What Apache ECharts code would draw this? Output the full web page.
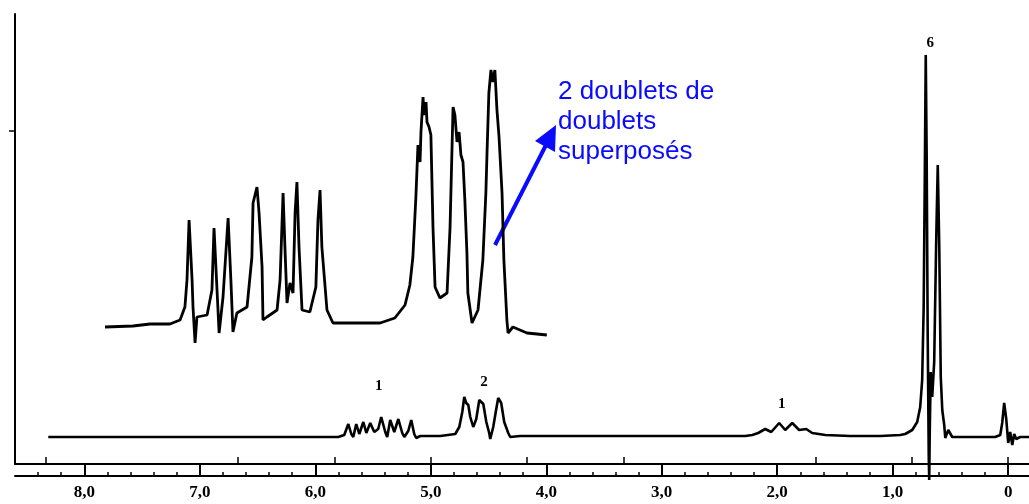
<!DOCTYPE html>
<html>
<head>
<meta charset="utf-8">
<script src="https://cdn.jsdelivr.net/npm/echarts@6/dist/echarts.min.js"></script>
<style>
html,body{margin:0;padding:0;background:#fff;}
#chart{width:1029px;height:504px;}
</style>
</head>
<body>
<div id="chart"></div>
<script>
// ---- Main spectrum (ppm, intensity above baseline) ----
const mainPpm = [8.312,7.861,6.996,6.130,5.801,5.749,5.714,5.688,5.671,5.645,5.619,5.584,5.558,5.524,5.489,5.455,5.429,5.394,5.377,5.351,5.316,5.281,5.247,5.229,5.195,5.169,5.143,5.126,5.091,4.918,4.788,4.753,4.727,4.710,4.693,4.675,4.658,4.632,4.606,4.580,4.563,4.545,4.519,4.494,4.485,4.459,4.433,4.416,4.390,4.364,4.329,4.312,4.225,3.532,2.667,2.277,2.216,2.165,2.104,2.052,1.983,1.931,1.870,1.810,1.749,1.697,1.584,1.368,1.108,0.935,0.892,0.831,0.788,0.762,0.745,0.732,0.723,0.714,0.706,0.697,0.688,0.684,0.680,0.671,0.658,0.641,0.623,0.610,0.597,0.584,0.571,0.554,0.545,0.519,0.485,0.113,0.069,0.052,0.035,0.017,0.000,-0.017,-0.035,-0.052,-0.069,-0.104,-0.182];
const mainInt = [0,0,0,0,0,2,13,3,0,13,3,15,4,14,5,8,20,5,0,17,5,18,4,0,6,17,3,-1,1,1,3,10,25,40,34,32,20,10,18,37,35,33,15,4,-2,10,28,39,34,15,4,0,1,1,1,1,2,4,8,5,14,7,14,7,8,4,2,1,1,2,3,7,15,30,57,130,250,382,280,100,-20,-43,0,65,40,75,200,272,190,60,27,12,-1,7,0,0,2,14,34,18,-6,5,-8,3,-2,0,0];

// ---- Expanded inset (ppm, intensity above inset baseline) ----
const insetPpm = [6.118,5.997,5.923,5.837,5.793,5.772,5.763,5.754,5.741,5.737,5.728,5.720,5.676,5.655,5.646,5.633,5.624,5.607,5.585,5.573,5.564,5.547,5.503,5.482,5.477,5.460,5.451,5.438,5.434,5.417,5.373,5.360,5.347,5.339,5.330,5.317,5.304,5.295,5.287,5.278,5.265,5.231,5.205,5.196,5.187,5.179,5.157,5.131,5.070,4.927,4.863,4.819,4.798,4.785,4.772,4.763,4.754,4.750,4.741,4.737,4.728,4.724,4.715,4.707,4.698,4.689,4.668,4.637,4.624,4.616,4.611,4.603,4.594,4.585,4.577,4.568,4.560,4.551,4.547,4.529,4.503,4.482,4.469,4.464,4.456,4.447,4.439,4.430,4.421,4.412,4.408,4.399,4.391,4.378,4.373,4.352,4.291,4.205];
const insetInt = [0,1,3,3,7,20,47,107,47,20,-16,10,12,37,99,37,-6,30,109,47,-5,14,20,70,124,140,114,60,7,10,17,47,134,80,24,44,34,114,145,80,17,15,40,107,137,80,17,4,4,4,9,22,42,70,130,182,165,195,230,212,225,205,200,192,100,40,29,34,100,175,220,212,185,195,172,165,127,74,34,4,17,67,134,174,234,257,245,257,217,190,190,134,67,7,-6,0,-6,-8];

// ---- Axis ticks / labels ----
const labelTicks = [0,1,2,3,4,5,6,7,8];
const chartTicks = [0,0.833,1.667,3.333,4.167,5.0,5.833,6.667,8.333];
const minorTicks = [0.2,0.4,0.6,0.8,1.2,1.4,1.6,1.8,2.2,2.4,2.6,2.8,3.2,3.4,3.6,3.8,4.2,4.4,4.6,4.8,5.2,5.4,5.6,5.8,6.2,6.4,6.6,6.8,7.2,7.4,7.6,7.8,8.2,8.4];
const yTicks = [306];

// ---- Integration labels ----
const integText = ['1','2','1','6'];
const integPpm = [5.45,4.54,1.96,0.675];
const integInt = [51,55,33,394];

const noteLines = ['2 doublets de','doublets','superposés'];

const chart = echarts.init(document.getElementById('chart'));
const fmt = v => v === 0 ? '0' : v.toFixed(1).replace('.', ',');
const blue = '#0a0aff';

chart.setOption({
  animation: false,
  backgroundColor: '#fff',
  grid: [
    {left: 15, right: 0, top: 14, bottom: 40},
    {left: 105, right: 481, top: 27, bottom: 147}
  ],
  xAxis: [
    {gridIndex: 0, type: 'value', min: -0.18, max: 8.6, inverse: true, position: 'bottom', offset: 0,
     axisLine: {show: true, onZero: false, lineStyle: {color: '#000', width: 2}},
     axisTick: {show: true, inside: true, length: 7, customValues: chartTicks, lineStyle: {color: '#000', width: 1.5}},
     axisLabel: {show: false}, splitLine: {show: false}},
    {gridIndex: 0, type: 'value', min: -0.18, max: 8.6, inverse: true, position: 'bottom', offset: 12,
     axisLine: {show: true, onZero: false, lineStyle: {color: '#000', width: 2}},
     axisTick: {show: true, inside: true, length: 12, customValues: labelTicks, lineStyle: {color: '#000', width: 2}},
     axisLabel: {show: true, customValues: labelTicks, formatter: fmt, margin: 8,
       fontFamily: 'Liberation Serif', fontWeight: 'bold', fontSize: 17, color: '#000'},
     splitLine: {show: false}},
    {gridIndex: 0, type: 'value', min: -0.18, max: 8.6, inverse: true, position: 'bottom', offset: 12,
     axisLine: {show: false, onZero: false},
     axisTick: {show: true, inside: true, length: 4, customValues: minorTicks, lineStyle: {color: '#000', width: 1.5}},
     axisLabel: {show: false}, splitLine: {show: false}},
    {gridIndex: 1, type: 'value', min: 4.2, max: 6.118, inverse: true, show: false}
  ],
  yAxis: [
    {gridIndex: 0, type: 'value', min: -27, max: 423,
     axisLine: {show: true, onZero: false, lineStyle: {color: '#000', width: 2}},
     axisTick: {show: true, inside: false, length: 6, customValues: yTicks, lineStyle: {color: '#000', width: 1.5}},
     axisLabel: {show: false}, splitLine: {show: false}},
    {gridIndex: 1, type: 'value', min: -30, max: 300, show: false}
  ],
  series: [
    {type: 'line', xAxisIndex: 0, yAxisIndex: 0, showSymbol: false, clip: false,
     data: mainPpm.map((p, i) => [p, mainInt[i]]),
     lineStyle: {color: '#000', width: 2.6}, itemStyle: {color: '#000'},
     markPoint: {symbol: 'rect', symbolSize: 1, itemStyle: {color: 'rgba(0,0,0,0)'},
       label: {show: true, position: 'inside', formatter: p => p.name,
         fontFamily: 'Liberation Serif', fontWeight: 'bold', fontSize: 15, color: '#000'},
       data: integText.map((t, i) => ({name: t, coord: [integPpm[i], integInt[i]]}))}
    },
    {type: 'line', xAxisIndex: 3, yAxisIndex: 1, showSymbol: false, clip: false,
     data: insetPpm.map((p, i) => [p, insetInt[i]]),
     lineStyle: {color: '#000', width: 2.8}, itemStyle: {color: '#000'}}
  ],
  graphic: [
    {type: 'text', left: 558, top: 77,
     style: {text: noteLines.join('\n'), fill: blue, font: '26px "Liberation Sans", Arial, sans-serif', lineHeight: 30}},
    {type: 'line', shape: {x1: 495, y1: 245, x2: 546, y2: 145}, style: {stroke: blue, lineWidth: 4}},
    {type: 'polygon', shape: {points: [[556,125],[535,141],[555,152]]}, style: {fill: blue}}
  ]
});
</script>
</body>
</html>
